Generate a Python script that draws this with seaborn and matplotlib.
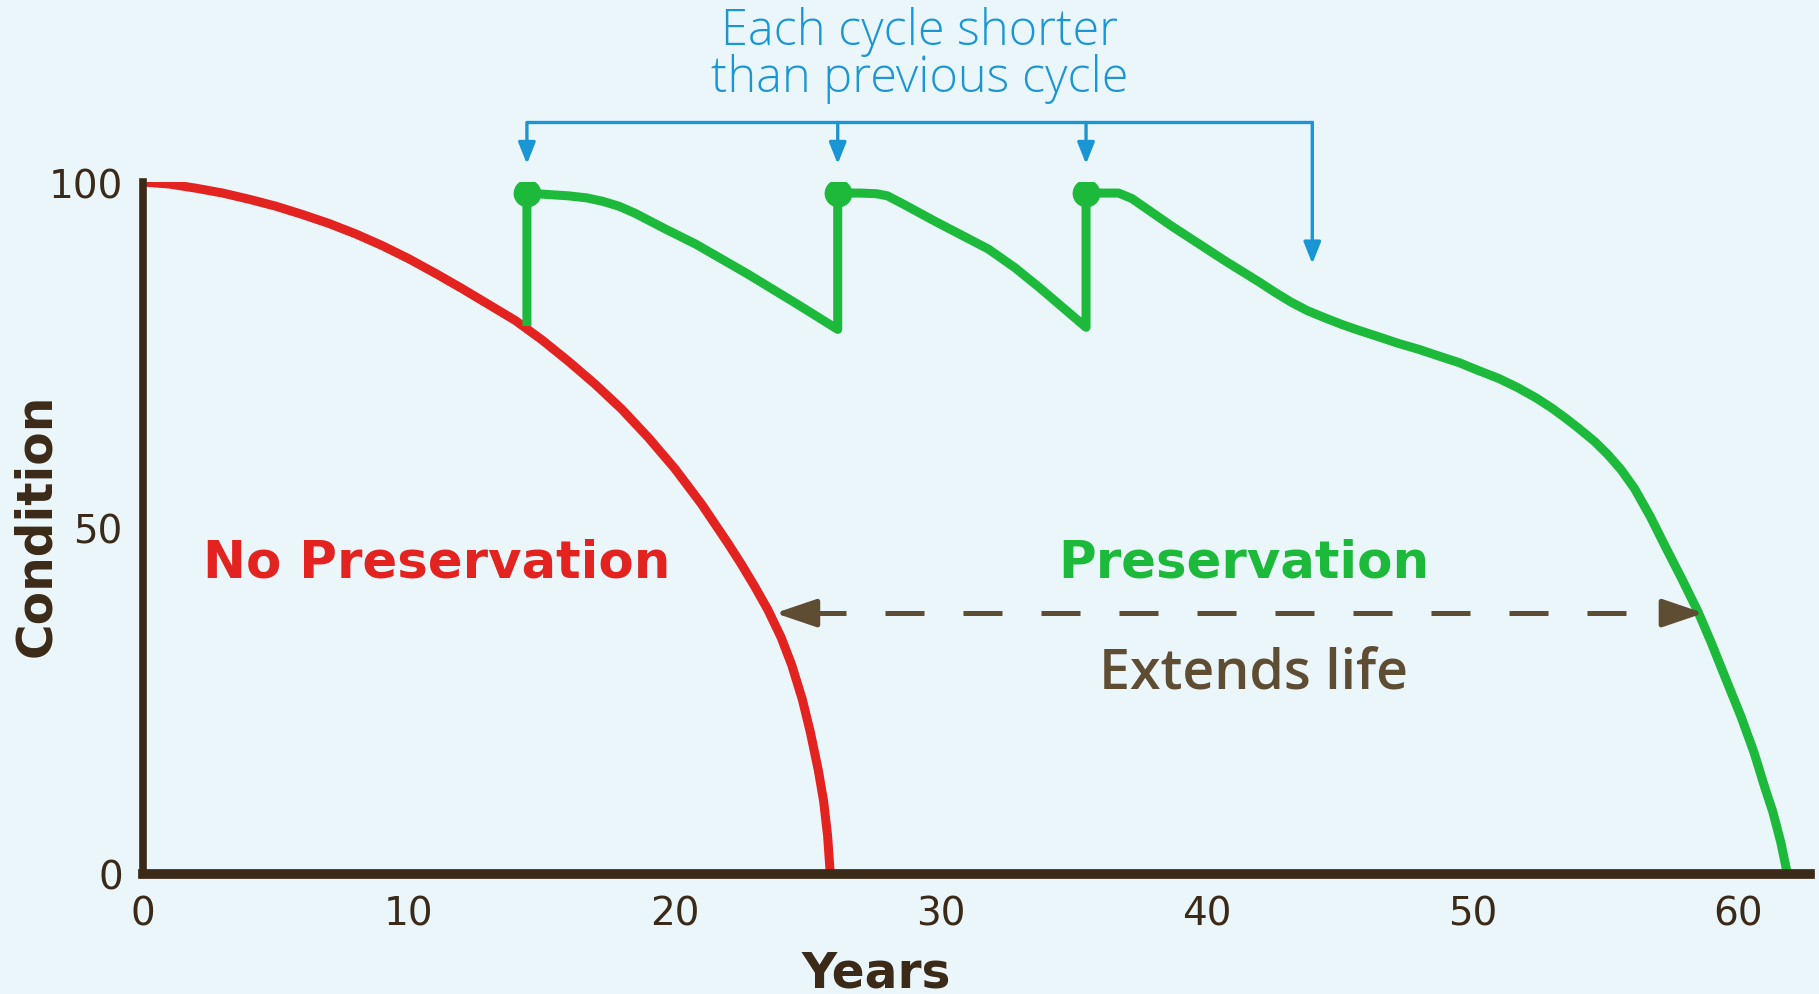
import matplotlib.pyplot as plt
import seaborn as sns

# values
years_none = [0, 1, 2, 3, 4, 5, 6, 7, 8, 9, 10, 11, 12, 13, 14, 15, 16, 17, 18, 19,
              20, 21, 22, 22.5, 23, 23.5, 24, 24.4, 24.8, 25.1, 25.4, 25.6, 25.75, 25.85]
cond_none = [100, 99.7, 99.1, 98.4, 97.5, 96.5, 95.3, 94.0, 92.5, 90.8, 88.9, 86.8, 84.6,
             82.3, 80.0, 77.2, 74.1, 70.8, 67.2, 63.1, 58.6, 53.5, 47.8, 44.8, 41.6, 38.2,
             34.2, 30.2, 25.2, 20.5, 15.0, 10.5, 5.5, 0]

years_pres = [14.44, 14.44, 15.2, 16.0, 16.7, 17.3, 17.9, 18.5, 19.6, 20.8, 22.7, 24.5, 26.13,
              26.13, 27.0, 27.6, 28.0, 28.6, 29.8, 31.8, 32.8, 33.7, 35.47,
              35.47, 36.7, 37.2, 38.7, 40.7, 42.0, 42.6, 43.2, 43.8, 44.5, 45.1, 45.7,
              46.5, 47.2, 48.0, 48.7, 49.5, 50.2, 51.0, 51.7, 52.4, 53.0, 53.5, 54.0, 54.6,
              55.1, 55.6, 56.1, 56.7, 57.3, 57.9, 58.5, 59.0, 59.5, 60.1, 60.6, 61.0, 61.3,
              61.6, 61.85]
cond_pres = [79.2, 98.4, 98.2, 98.0, 97.7, 97.2, 96.5, 95.5, 93.3, 91.0, 86.8, 82.6, 78.7,
             98.4, 98.4, 98.3, 98.0, 96.8, 94.3, 90.3, 87.6, 84.8, 79.0,
             98.4, 98.4, 97.6, 93.6, 88.6, 85.5, 84.0, 82.6, 81.4, 80.3, 79.4, 78.6,
             77.6, 76.7, 75.8, 74.9, 73.9, 72.8, 71.6, 70.3, 68.8, 67.3, 65.9, 64.4, 62.5,
             60.6, 58.4, 55.7, 51.6, 47.0, 42.5, 37.8, 33.3, 28.5, 22.8, 17.5, 12.5, 9.0,
             4.6, 0]

treat_years = [14.44, 26.13, 35.47]
treat_cond = [98.4, 98.4, 98.4]

bracket_x = [14.44, 26.13, 35.47, 43.98]
bracket_tips = [102.6, 102.6, 102.6, 88.2]
bracket_y = 108.6

life_y = 37.7
life_start = 23.78
life_end = 58.7

xticks = [0, 10, 20, 30, 40, 50, 60]
yticks = [0, 50, 100]

red = '#e3231f'
green = '#1db93b'
blue = '#1b96d4'
brown = '#3b2a18'
olive = '#5e4d33'
bg = '#ebf6fb'

sns.set_theme(style="white")
plt.rcParams['font.family'] = ['DejaVu Sans']

fig = plt.figure(figsize=(18.19, 9.95), dpi=100)
fig.patch.set_facecolor(bg)
ax = fig.add_axes([143/1819, 1-875/995, 1667/1819, 692/995])
ax.set_facecolor('none')

sns.lineplot(x=years_none, y=cond_none, color=red, lw=6.5, sort=False, estimator=None,
             ax=ax, solid_joinstyle='round', solid_capstyle='butt')
sns.lineplot(x=years_pres, y=cond_pres, color=green, lw=6.5, sort=False, estimator=None,
             ax=ax, solid_joinstyle='round', solid_capstyle='butt')
ax.plot(treat_years, treat_cond, 'o', color=green, ms=19, zorder=5)

# bracket over the treatment cycles
ax.plot([bracket_x[0], bracket_x[-1]], [bracket_y, bracket_y], color=blue, lw=2.4, clip_on=False)
for bx, tip in zip(bracket_x, bracket_tips):
    ax.annotate('', xy=(bx, tip), xytext=(bx, bracket_y), annotation_clip=False,
                arrowprops=dict(arrowstyle='-|>,head_length=0.5,head_width=0.2',
                                color=blue, lw=2.4, mutation_scale=26,
                                shrinkA=0, shrinkB=0))
ax.text(29.2, 119.9, 'Each cycle shorter', color=blue, fontsize=35, fontweight='light',
        family=['Open Sans', 'DejaVu Sans'], ha='center', va='baseline')
ax.text(29.2, 113.2, 'than previous cycle', color=blue, fontsize=35, fontweight='light',
        family=['Open Sans', 'DejaVu Sans'], ha='center', va='baseline')

# extended life arrow
ax.plot([life_start + 1.2, life_end - 1.2], [life_y, life_y], color=olive, lw=3.6,
        ls=(0, (7.8, 7.8)))
for tip, back in [(life_start, life_start + 1.3), (life_end, life_end - 1.3)]:
    ax.annotate('', xy=(tip, life_y), xytext=(back, life_y),
                arrowprops=dict(arrowstyle='-|>,head_length=0.5,head_width=0.17',
                                color=olive, lw=3.6, mutation_scale=50,
                                shrinkA=0, shrinkB=0))

ax.text(11.05, 43, 'No Preservation', color=red, fontsize=37, fontweight='bold',
        ha='center', va='baseline')
ax.text(41.4, 43, 'Preservation', color=green, fontsize=37, fontweight='bold',
        ha='center', va='baseline')
ax.text(41.76, 27, 'Extends life', color=olive, fontsize=40, fontweight='semibold',
        family=['Open Sans', 'DejaVu Sans'], ha='center', va='baseline')

ax.set_xlim(0, 62.7)
ax.set_ylim(0, 100)
ax.set_xticks(xticks)
ax.set_yticks(yticks)
for side in ['top', 'right']:
    ax.spines[side].set_visible(False)
ax.spines['left'].set_color(brown)
ax.spines['left'].set_linewidth(5.5)
ax.spines['bottom'].set_color(brown)
ax.spines['bottom'].set_linewidth(7)
ax.tick_params(axis='x', direction='inout', length=17, width=2.5, color=brown,
               labelcolor=brown, labelsize=28, pad=6)
ax.tick_params(axis='y', direction='inout', length=15, width=2.5, color=brown,
               labelcolor=brown, labelsize=28, pad=7)

ax.set_xlabel('Years', fontsize=35, fontweight='bold', color=brown, va='baseline')
ax.xaxis.set_label_coords(0.4397, -0.163)
ax.set_ylabel('Condition', fontsize=35, fontweight='bold', color=brown, va='baseline')
ax.yaxis.set_label_coords(-0.0558, 0.506)

fig.savefig('out.png', dpi=100, facecolor=bg)
